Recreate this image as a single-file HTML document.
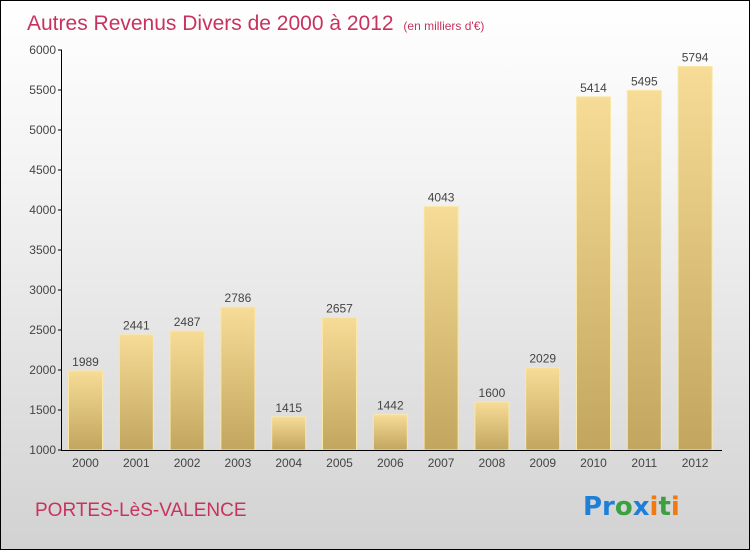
<!DOCTYPE html>
<html><head><meta charset="utf-8"><style>
body{margin:0}
#c{width:748px;height:548px;border:1px solid #000;background:linear-gradient(#ffffff,#f4f4f4 30%,#d2d2d2);position:relative;font-family:"Liberation Sans",sans-serif;overflow:hidden}
</style></head><body>
<div id="c">
<svg width="748" height="548" id="s">
<defs><linearGradient id="g" x1="0" y1="0" x2="0" y2="1"><stop offset="0" stop-color="#f6dc96"/><stop offset="1" stop-color="#c2a660"/></linearGradient></defs>
<text x="26" y="29" font-size="21" fill="#c8335e">Autres Revenus Divers de 2000 à 2012 <tspan font-size="12" dx="4">(en milliers d'€)</tspan></text>
<text x="34" y="515" font-size="19" fill="#c8335e">PORTES-LèS-VALENCE</text>
<g font-size="26" font-weight="bold" font-family="'DejaVu Sans',sans-serif"><text x="582" y="514"><tspan fill="#1e7fd8">Pr</tspan><tspan fill="#3aa040">o</tspan><tspan fill="#1e7fd8">x</tspan><tspan fill="#f07a10">i</tspan><tspan fill="#3aa040">t</tspan><tspan fill="#f07a10">i</tspan></text></g>
<g id="plot"></g>
</svg></div>
<script>
const years=["2000","2001","2002","2003","2004","2005","2006","2007","2008","2009","2010","2011","2012"];
const values=[1989,2441,2487,2786,1415,2657,1442,4043,1600,2029,5414,5495,5794];
const ticks=[1000,1500,2000,2500,3000,3500,4000,4500,5000,5500,6000];
const ns="http://www.w3.org/2000/svg",p=document.getElementById('plot');
const y=v=>449-(v-1000)*0.08, x=i=>84.5+i*50.8;
function mk(t,a,txt){const e=document.createElementNS(ns,t);for(const k in a)e.setAttribute(k,a[k]);if(txt!=null)e.textContent=txt;p.appendChild(e);return e;}
values.forEach((v,i)=>{
 const b=mk('rect',{x:x(i)-17,y:y(v),width:34,height:449-y(v),fill:'url(#g)',stroke:'#fbe7a8','stroke-width':1});
 
 
 const l=mk('text',{x:x(i),y:y(v)-5,'text-anchor':'middle','font-size':12,fill:'#444'},v);
 
 
 const xl=mk('text',{x:x(i),y:466,'text-anchor':'middle','font-size':12,fill:'#444'},years[i]);
 
 
});
ticks.forEach(t=>{
 mk('line',{x1:57,x2:61,y1:y(t),y2:y(t),stroke:'#000'});
 const tl=mk('text',{x:55,y:y(t)+4,'text-anchor':'end','font-size':12,fill:'#444'},t);
 
 
});
const ya=mk('line',{x1:60.5,x2:60.5,y1:49,y2:449.5,stroke:'#000'});


const xa=mk('line',{x1:60,x2:721,y1:449.5,y2:449.5,stroke:'#000'});


</script>
</body></html>
